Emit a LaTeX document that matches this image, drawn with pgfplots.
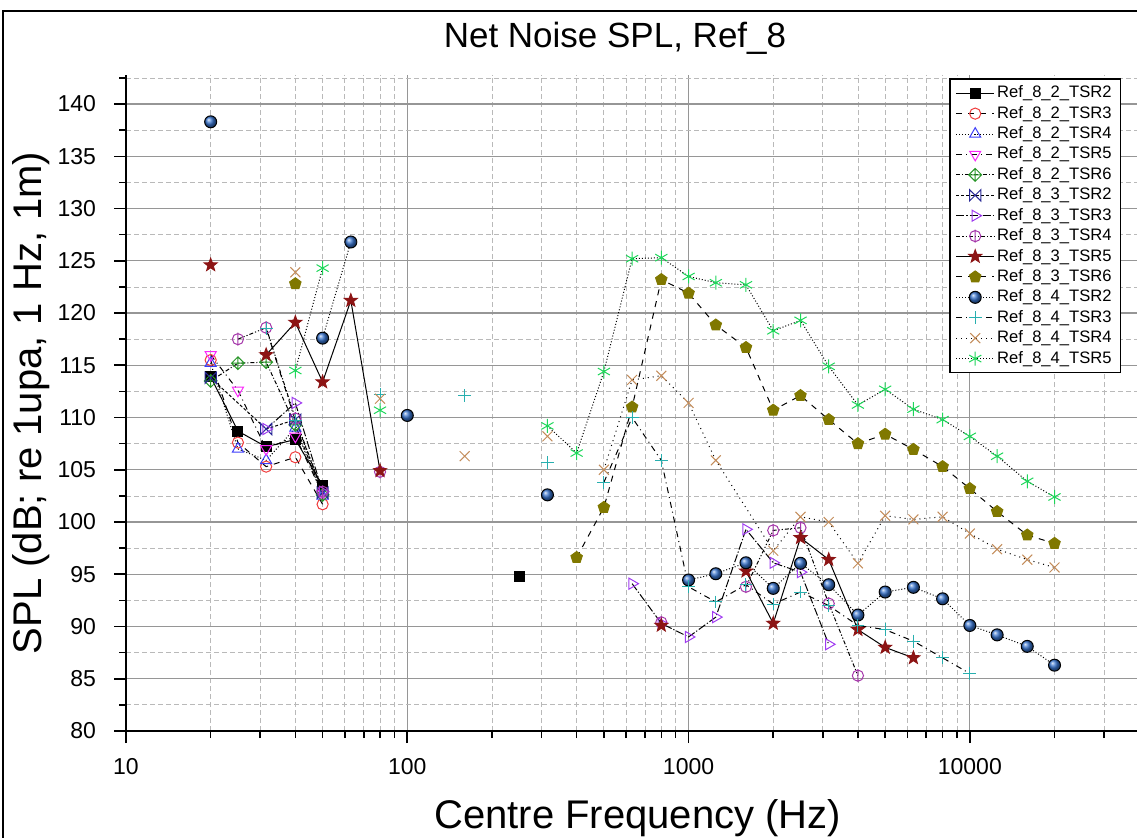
\documentclass[border=0pt]{standalone}
\usepackage{fontspec}
\setmainfont{Liberation Sans}
\usepackage{pgfplots}
\pgfplotsset{compat=1.18}
\usetikzlibrary{plotmarks}

\definecolor{gridmaj}{RGB}{150,150,150}
\definecolor{gridmin}{RGB}{185,185,185}
\definecolor{cred}{RGB}{240,60,60}
\definecolor{cblue}{RGB}{60,60,250}
\definecolor{cmag}{RGB}{250,40,250}
\definecolor{cgreen}{RGB}{40,150,40}
\definecolor{cnavy}{RGB}{40,40,150}
\definecolor{cviolet}{RGB}{160,60,240}
\definecolor{cpurple}{RGB}{165,55,170}
\definecolor{cdred}{RGB}{140,20,20}
\definecolor{colive}{RGB}{128,120,0}
\definecolor{cball}{RGB}{55,115,205}
\definecolor{cteal}{RGB}{40,175,175}
\definecolor{ctan}{RGB}{195,140,90}
\definecolor{cgast}{RGB}{30,215,90}

% open diamond with a cross inside
\pgfdeclareplotmark{diamondplus}{%
  \pgfpathmoveto{\pgfqpoint{0pt}{\pgfplotmarksize}}%
  \pgfpathlineto{\pgfqpoint{\pgfplotmarksize}{0pt}}%
  \pgfpathlineto{\pgfqpoint{0pt}{-\pgfplotmarksize}}%
  \pgfpathlineto{\pgfqpoint{-\pgfplotmarksize}{0pt}}%
  \pgfpathclose
  \pgfpathmoveto{\pgfqpoint{0pt}{\pgfplotmarksize}}%
  \pgfpathlineto{\pgfqpoint{0pt}{-\pgfplotmarksize}}%
  \pgfpathmoveto{\pgfqpoint{-\pgfplotmarksize}{0pt}}%
  \pgfpathlineto{\pgfqpoint{\pgfplotmarksize}{0pt}}%
  \pgfusepathqstroke}
% open circle with a vertical bar
\pgfdeclareplotmark{circlebar}{%
  \pgfpathcircle{\pgfpointorigin}{\pgfplotmarksize}%
  \pgfpathmoveto{\pgfqpoint{0pt}{1.15\pgfplotmarksize}}%
  \pgfpathlineto{\pgfqpoint{0pt}{-1.15\pgfplotmarksize}}%
  \pgfusepathqstroke}
% cross with side bars
\pgfdeclareplotmark{bowx}{%
  \pgfpathmoveto{\pgfqpoint{-\pgfplotmarksize}{\pgfplotmarksize}}%
  \pgfpathlineto{\pgfqpoint{\pgfplotmarksize}{-\pgfplotmarksize}}%
  \pgfpathlineto{\pgfqpoint{\pgfplotmarksize}{\pgfplotmarksize}}%
  \pgfpathlineto{\pgfqpoint{-\pgfplotmarksize}{-\pgfplotmarksize}}%
  \pgfpathclose
  \pgfusepathqstroke}
% filled five-point star
\pgfdeclareplotmark{fstar}{%
  \pgfpathmoveto{\pgfpointpolar{90}{1.2\pgfplotmarksize}}%
  \pgfpathlineto{\pgfpointpolar{126}{0.5\pgfplotmarksize}}%
  \pgfpathlineto{\pgfpointpolar{162}{1.2\pgfplotmarksize}}%
  \pgfpathlineto{\pgfpointpolar{198}{0.5\pgfplotmarksize}}%
  \pgfpathlineto{\pgfpointpolar{234}{1.2\pgfplotmarksize}}%
  \pgfpathlineto{\pgfpointpolar{270}{0.5\pgfplotmarksize}}%
  \pgfpathlineto{\pgfpointpolar{306}{1.2\pgfplotmarksize}}%
  \pgfpathlineto{\pgfpointpolar{342}{0.5\pgfplotmarksize}}%
  \pgfpathlineto{\pgfpointpolar{18}{1.2\pgfplotmarksize}}%
  \pgfpathlineto{\pgfpointpolar{54}{0.5\pgfplotmarksize}}%
  \pgfpathclose
  \pgfusepathqfillstroke}

\begin{document}
\begin{tikzpicture}
\begin{axis}[
  scale only axis,
  width=506.6pt, height=328.1pt,
  xmode=log, log basis x=10,
  xmin=10, xmax=40000,
  ymin=80, ymax=142.8,
  axis lines=left,
  axis line style={-, line width=1pt},
  xtick={10,100,1000,10000},
  xticklabels={10,100,1000,10000},
  minor xtick={20,30,40,50,60,70,80,90,200,300,400,500,600,700,800,900,2000,3000,4000,5000,6000,7000,8000,9000,20000,30000},
  ytick={80,85,...,140},
  minor ytick={82.5,87.5,...,142.5},
  grid=both,
  major grid style={gridmaj, line width=0.6pt},
  minor grid style={gridmin, line width=0.4pt, dash pattern=on 2.5pt off 1.5pt},
  tick align=outside,
  major tick length=6pt, minor tick length=3.5pt,
  tick style={black, line width=0.8pt},
  /pgf/number format/assume math mode=true,
  tick label style={font=\fontsize{11.5}{13}\selectfont},
  yticklabel style={xshift=-5.5pt},
  xticklabel style={yshift=-4pt},
  title={Net Noise SPL, Ref\_8},
  title style={at={(axis description cs:0.4826,1.037)}, anchor=center, yshift=0pt, font=\fontsize{17.5}{20}\selectfont},
  xlabel={Centre Frequency (Hz)},
  xlabel style={at={(axis description cs:0.505,-0.133)}, anchor=center, font=\fontsize{20}{24}\selectfont},
  ylabel={SPL (dB; re 1upa, 1 Hz, 1m)},
  ylabel style={at={(axis description cs:-0.0935,0.5)}, anchor=center, font=\fontsize{20}{24}\selectfont},
  unbounded coords=jump,
  every axis plot/.append style={black, line width=0.5pt},
  mark size=2.8pt,
  legend image code/.code={%
    \draw[mark repeat=2, mark phase=2, #1] plot coordinates {(0cm,0cm) (0.33cm,0cm) (0.66cm,0cm)};},
  legend style={at={(axis description cs:0.8126,0.9945)}, anchor=north west,
    draw=black, line width=0.6pt, fill=white,
    font=\fontsize{8.3}{9}\selectfont, nodes={inner sep=1.35pt},
    row sep=0pt, cells={anchor=west}},
  legend cell align=left,
]

\addplot[solid, mark=square*, mark options={solid, fill=black, mark size=2.5pt}] coordinates {
  (20,113.9) (25,108.7) (31.5,107.2) (40,107.9) (50,103.5) (63,nan) (250,94.8)};
\addlegendentry{Ref\_8\_2\_TSR2}

\addplot[dashed, mark=o, mark options={solid, draw=cred}] coordinates {
  (20,115.5) (25,107.6) (31.5,105.3) (40,106.2) (50,101.7)};
\addlegendentry{Ref\_8\_2\_TSR3}

\addplot[densely dotted, mark=triangle, mark options={solid, draw=cblue, mark size=3.2pt}] coordinates {
  (20,115.2) (25,107.0) (31.5,105.9) (40,109.0) (50,102.5)};
\addlegendentry{Ref\_8\_2\_TSR4}

\addplot[dash dot, mark=triangle, mark options={solid, draw=cmag, rotate=180, mark size=3.2pt}] coordinates {
  (20,116.0) (25,112.6) (31.5,107.0) (40,108.2) (50,102.7)};
\addlegendentry{Ref\_8\_2\_TSR5}

\addplot[dash pattern=on 2pt off 1pt on 0.5pt off 1pt, mark=diamondplus, mark options={solid, draw=cgreen, mark size=3.2pt}] coordinates {
  (20,113.5) (25,115.2) (31.5,115.3) (40,109.3) (50,102.6)};
\addlegendentry{Ref\_8\_2\_TSR6}

\addplot[dash pattern=on 1.5pt off 1pt, mark=bowx, mark options={solid, draw=cnavy}] coordinates {
  (20,113.8) (31.5,108.9) (40,109.8) (50,102.8)};
\addlegendentry{Ref\_8\_3\_TSR2}

\addplot[dash pattern=on 4pt off 1pt on 0.6pt off 1pt, mark=triangle, mark options={solid, draw=cviolet, rotate=-90, mark size=3.2pt}] coordinates {
  (31.5,108.9) (40,111.4) (50,102.9) (63,nan) (630,94.1) (800,90.3) (1000,89.0) (1250,90.9)
  (1600,99.3) (2000,96.1) (2500,95.2) (3150,88.3)};
\addlegendentry{Ref\_8\_3\_TSR3}

\addplot[dash pattern=on 2pt off 1pt on 0.6pt off 1pt on 0.6pt off 1pt, mark=circlebar, mark options={solid, draw=cpurple}] coordinates {
  (25,117.5) (31.5,118.6) (40,109.9) (50,102.9) (63,nan) (80,104.8) (100,nan) (800,90.4) (1000,nan)
  (1600,93.8) (2000,99.2) (2500,99.45) (3150,92.2) (4000,85.3)};
\addlegendentry{Ref\_8\_3\_TSR4}

\addplot[solid, mark=fstar, mark options={solid, draw=cdred, fill=cdred}] coordinates {
  (20,124.6) (25,nan) (31.5,116.0) (40,119.1) (50,113.4) (63,121.2) (80,104.9) (100,nan)
  (800,90.1) (1000,nan) (1600,95.3) (2000,90.3) (2500,98.5) (3150,96.4) (4000,89.7)
  (5000,88.0) (6300,87.0)};
\addlegendentry{Ref\_8\_3\_TSR5}

\addplot[dashed, mark=pentagon*, mark options={solid, draw=colive, fill=colive, mark size=3pt}] coordinates {
  (40,122.8) (50,nan) (400,96.6) (500,101.4) (630,111.0) (800,123.2) (1000,121.9) (1250,118.85)
  (1600,116.7) (2000,110.7) (2500,112.1) (3150,109.8) (4000,107.5) (5000,108.4) (6300,106.95)
  (8000,105.3) (10000,103.2) (12500,101.0) (16000,98.75) (20000,97.95)};
\addlegendentry{Ref\_8\_3\_TSR6}

\addplot[densely dotted, mark=ball, mark options={solid, ball color=cball, mark size=3pt}] coordinates {
  (20,138.3) (25,nan) (50,117.6) (63,126.8) (80,nan) (100,110.2) (125,nan) (315,102.6) (400,nan)
  (1000,94.45) (1250,95.05) (1600,96.1) (2000,93.65) (2500,96.05) (3150,94.0) (4000,91.1)
  (5000,93.3) (6300,93.75) (8000,92.65) (10000,90.1) (12500,89.2) (16000,88.1) (20000,86.3)};
\addlegendentry{Ref\_8\_4\_TSR2}

\addplot[dash dot, mark=+, mark options={solid, draw=cteal, mark size=3.2pt}] coordinates {
  (31.5,118.5) (40,109.7) (50,nan) (80,112.2) (100,nan) (160,112.1) (200,nan) (315,105.7) (400,nan)
  (500,103.8) (630,110.0) (800,105.9) (1000,93.8) (1250,92.35) (1600,94.0) (2000,92.15)
  (2500,93.3) (3150,92.0) (4000,90.1) (5000,89.7) (6300,88.6) (8000,87.0) (10000,85.5)};
\addlegendentry{Ref\_8\_4\_TSR3}

\addplot[dotted, mark=x, mark options={solid, draw=ctan, mark size=3.5pt}] coordinates {
  (40,123.9) (50,nan) (80,111.8) (100,nan) (160,106.3) (200,nan) (315,108.2) (400,nan)
  (500,105.0) (630,113.6) (800,114.0) (1000,111.4) (1250,105.9) (2000,97.25) (2500,100.5)
  (3150,100.0) (4000,96.05) (5000,100.6) (6300,100.25) (8000,100.5) (10000,98.9) (12500,97.4)
  (16000,96.4) (20000,95.65)};
\addlegendentry{Ref\_8\_4\_TSR4}

\addplot[densely dotted, mark=asterisk, mark options={solid, draw=cgast, mark size=3.5pt}] coordinates {
  (40,114.5) (50,124.3) (63,nan) (80,110.7) (100,nan) (315,109.2) (400,106.6) (500,114.4)
  (630,125.2) (800,125.3) (1000,123.5) (1250,122.9) (1600,122.7) (2000,118.3) (2500,119.3)
  (3150,114.9) (4000,111.2) (5000,112.7) (6300,110.8) (8000,109.8) (10000,108.2) (12500,106.3)
  (16000,103.9) (20000,102.4)};
\addlegendentry{Ref\_8\_4\_TSR5}

\end{axis}
\draw[black, line width=0.8pt] (-61.5pt,-60pt) -- (-61.5pt,360pt) -- (520pt,360pt);
\pgfresetboundingbox
\path[use as bounding box] (-63pt,-53pt) rectangle (505.5pt,365.5pt);
\end{tikzpicture}
\end{document}
